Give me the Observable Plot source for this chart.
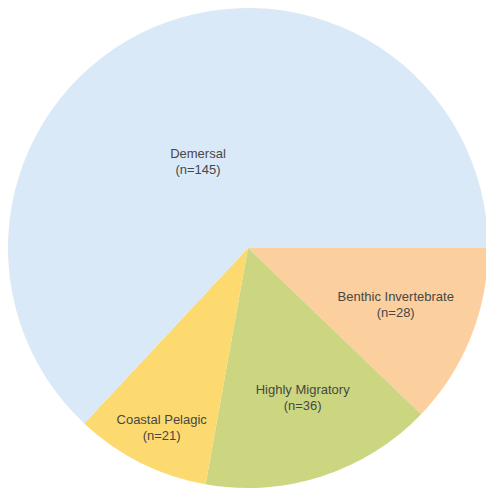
<!DOCTYPE html>
<html>
<head>
<meta charset="utf-8">
<script src="https://cdn.jsdelivr.net/npm/d3@7"></script>
<script src="https://cdn.jsdelivr.net/npm/@observablehq/plot@0.6"></script>
<style>
  html, body { margin: 0; padding: 0; background: #fff; }
</style>
</head>
<body>
<div id="chart"></div>
<script>
// Data
const categories = ["Benthic Invertebrate", "Highly Migratory", "Coastal Pelagic", "Demersal"];
const counts = [28, 36, 21, 145];
const colors = ["#fccf9e", "#ccd681", "#fcda70", "#dae9f7"];
// label placement (fraction of radius, angle shift in degrees)
const labelRadius = [0.655, 0.66, 0.825, 0.42];
const labelShift = [-1.4, -2, -0.6, -6.6];

const W = 486, H = 489;
const cx = 248, cy = 248, R = 240;

const slices = d3.pie().sort(null).value(d => d.count)
  .startAngle(Math.PI / 2).endAngle(Math.PI / 2 + 2 * Math.PI)(
    categories.map((c, i) => ({category: c, count: counts[i], color: colors[i], lr: labelRadius[i], ls: labelShift[i]}))
  );

const labels = slices.map(s => {
  const a = (s.startAngle + s.endAngle) / 2 + s.data.ls * Math.PI / 180;
  return {
    text: `${s.data.category}\n(n=${s.data.count})`,
    x: Math.sin(a) * s.data.lr,
    y: -Math.cos(a) * s.data.lr
  };
});

const pieMark = (index, scales) => {
  const g = d3.create("svg:g");
  const x0 = scales.x(0), y0 = scales.y(0);
  const r = scales.x(1) - scales.x(0);
  const arc = d3.arc().innerRadius(0).outerRadius(r);
  g.selectAll("path").data(slices).join("path")
    .attr("transform", `translate(${x0},${y0})`)
    .attr("d", arc)
    .attr("fill", d => d.data.color);
  return g.node();
};

const chart = Plot.plot({
  width: W,
  height: H,
  margin: 0,
  x: {domain: [-1, 1], range: [cx - R, cx + R], axis: null},
  y: {domain: [-1, 1], range: [cy - R, cy + R], axis: null},
  style: {fontFamily: "'Liberation Sans', Arial, sans-serif", background: "#fff"},
  marks: [
    pieMark,
    Plot.text(labels, {x: "x", y: "y", text: "text", fontSize: 13, lineHeight: 1.23, fill: "#474747"})
  ]
});
document.getElementById("chart").appendChild(chart);
</script>
</body>
</html>
